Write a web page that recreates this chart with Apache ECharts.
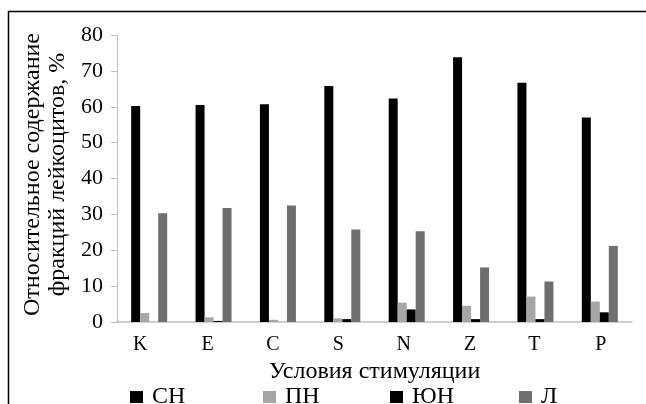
<!DOCTYPE html>
<html>
<head>
<meta charset="utf-8">
<script src="https://cdn.jsdelivr.net/npm/echarts@6/dist/echarts.min.js"></script>
<style>
html,body{margin:0;padding:0;background:#fff;}
#chart{width:646px;height:404px;}
</style>
</head>
<body>
<div id="chart"></div>
<script>
const categories = ['K', 'E', 'C', 'S', 'N', 'Z', 'T', 'P'];
const seriesNames = ['СН', 'ПН', 'ЮН', 'Л'];
const valuesSN = [60.2, 60.5, 60.7, 65.8, 62.3, 73.8, 66.7, 57.0];
const valuesPN = [2.5, 1.3, 0.6, 1.0, 5.4, 4.5, 7.1, 5.7];
const valuesYuN = [0, 0.3, 0, 0.8, 3.5, 0.8, 0.8, 2.7];
const valuesL = [30.3, 31.8, 32.5, 25.8, 25.3, 15.2, 11.3, 21.2];
const yTicks = [0, 10, 20, 30, 40, 50, 60, 70, 80];
const xTitle = 'Условия стимуляции';
const yTitle = 'Относительное содержание\nфракций лейкоцитов, %';

const colors = ['#000000', '#a6a6a6', '#000000', '#6f6f6f'];
const allValues = [valuesSN, valuesPN, valuesYuN, valuesL];
const font = 'Liberation Serif, Times New Roman, serif';

// layout tweaks (horizontal nudges of the category labels, px)
const labelShift = [-9, -6, -5, -4, -3, -1, -1, 1];
const legendLefts = [130, 263, 390, 519];

const rich = {};
labelShift.forEach((s, i) => {
  rich['l' + i] = {
    fontFamily: font, fontSize: 20, color: '#000',
    padding: s < 0 ? [0, -2 * s, 0, 0] : [0, 0, 0, 2 * s]
  };
});

const chart = echarts.init(document.getElementById('chart'), null, {renderer: 'canvas'});
chart.setOption({
  animation: false,
  backgroundColor: '#ffffff',
  color: colors,
  textStyle: {fontFamily: font},
  grid: {left: 117, right: 14, top: 35, bottom: 82, containLabel: false},
  legend: seriesNames.map((n, i) => ({
    data: [n],
    left: legendLefts[i],
    top: 385,
    padding: 0,
    itemWidth: 13,
    itemHeight: 12,
    itemGap: 0,
    icon: 'rect',
    textStyle: {fontFamily: font, fontSize: 24, color: '#000', padding: [0, 0, 0, 4]}
  })),
  xAxis: {
    type: 'category',
    data: categories,
    name: xTitle,
    nameLocation: 'middle',
    nameGap: 32,
    nameTextStyle: {fontFamily: font, fontSize: 24, color: '#000'},
    axisLine: {lineStyle: {color: '#bfbfbf', width: 1.5}},
    axisTick: {show: false},
    axisLabel: {
      interval: 0,
      hideOverlap: false,
      fontFamily: font, fontSize: 20, color: '#000', margin: 13,
      formatter: (v, idx) => '{l' + idx + '|' + v + '}',
      rich: rich
    }
  },
  yAxis: {
    type: 'value',
    min: yTicks[0],
    max: yTicks[yTicks.length - 1],
    interval: yTicks[1] - yTicks[0],
    name: yTitle,
    nameLocation: 'middle',
    nameGap: 35,
    nameRotate: 90,
    nameTextStyle: {fontFamily: font, fontSize: 24, color: '#000', lineHeight: 25, align: 'center', padding: [0, 0, 0, 8]},
    axisLine: {show: true, lineStyle: {color: '#bfbfbf', width: 1}},
    axisTick: {show: true, length: 6, lineStyle: {color: '#bfbfbf'}},
    splitLine: {show: false},
    axisLabel: {fontFamily: font, fontSize: 22, color: '#000', margin: 14}
  },
  series: seriesNames.map((n, i) => ({
    name: n,
    type: 'bar',
    data: allValues[i],
    barWidth: 9,
    barGap: '0%',
    itemStyle: {color: colors[i]}
  })),
  graphic: [{
    type: 'rect',
    shape: {x: 8.5, y: 11.5, width: 700, height: 500},
    style: {fill: null, stroke: '#000', lineWidth: 1.5},
    silent: true,
    z: 100
  }]
});
</script>
</body>
</html>
